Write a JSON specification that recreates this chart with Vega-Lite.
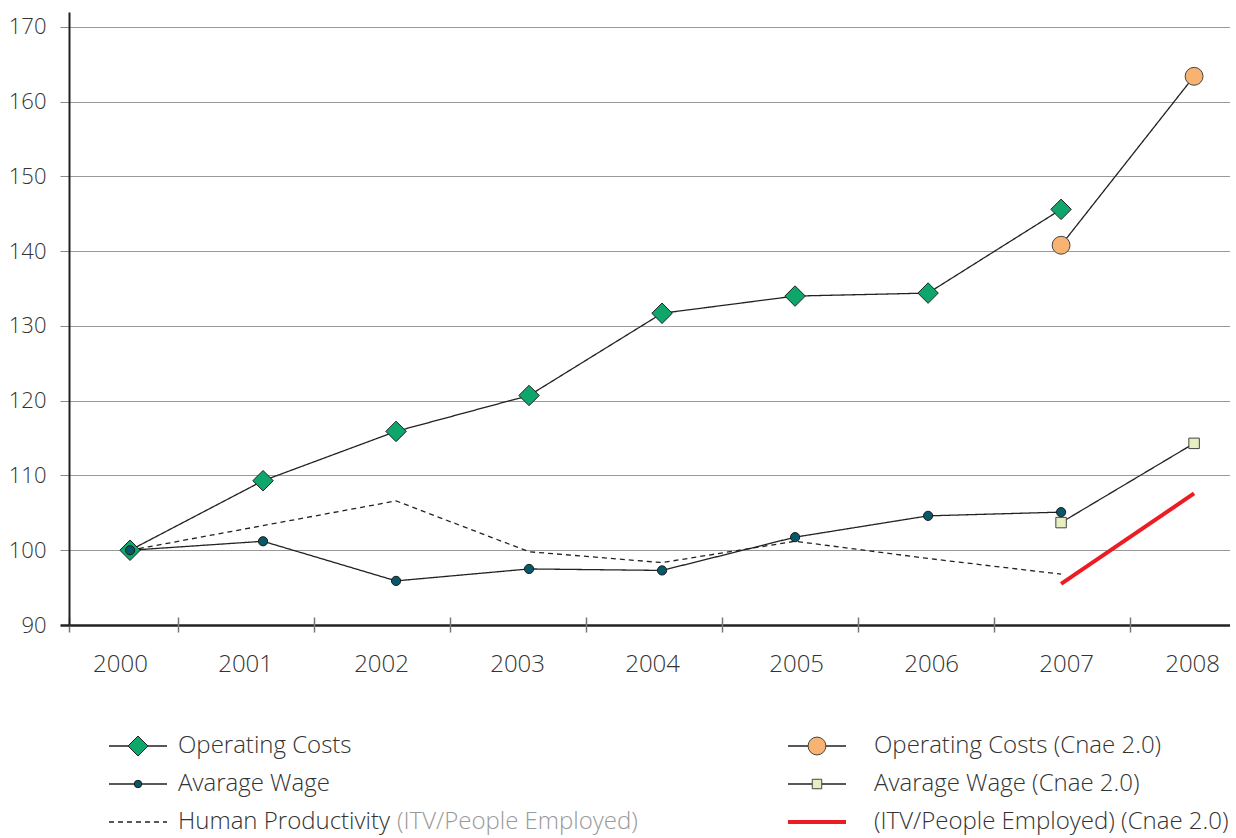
{
  "$schema": "https://vega.github.io/schema/vega-lite/v6.json",
  "padding": {"left": 8, "top": 12, "right": 0, "bottom": 5},
  "background": "white",
  "config": {
    "view": {"stroke": null},
    "font": "Open Sans",
    "concat": {"spacing": 53}
  },
  "datasets": {
    "main": [
      {"series": "Operating Costs", "year": 2000, "value": 100},
      {"series": "Operating Costs", "year": 2001, "value": 109.3},
      {"series": "Operating Costs", "year": 2002, "value": 115.9},
      {"series": "Operating Costs", "year": 2003, "value": 120.7},
      {"series": "Operating Costs", "year": 2004, "value": 131.7},
      {"series": "Operating Costs", "year": 2005, "value": 134.0},
      {"series": "Operating Costs", "year": 2006, "value": 134.4},
      {"series": "Operating Costs", "year": 2007, "value": 145.6},
      {"series": "Avarage Wage", "year": 2000, "value": 100},
      {"series": "Avarage Wage", "year": 2001, "value": 101.2},
      {"series": "Avarage Wage", "year": 2002, "value": 95.9},
      {"series": "Avarage Wage", "year": 2003, "value": 97.5},
      {"series": "Avarage Wage", "year": 2004, "value": 97.3},
      {"series": "Avarage Wage", "year": 2005, "value": 101.75},
      {"series": "Avarage Wage", "year": 2006, "value": 104.6},
      {"series": "Avarage Wage", "year": 2007, "value": 105.1},
      {"series": "Human Productivity", "year": 2000, "value": 100},
      {"series": "Human Productivity", "year": 2001, "value": 103.3},
      {"series": "Human Productivity", "year": 2002, "value": 106.6},
      {"series": "Human Productivity", "year": 2003, "value": 99.8},
      {"series": "Human Productivity", "year": 2004, "value": 98.35},
      {"series": "Human Productivity", "year": 2005, "value": 101.2},
      {"series": "Human Productivity", "year": 2006, "value": 98.9},
      {"series": "Human Productivity", "year": 2007, "value": 96.8},
      {"series": "Operating Costs (Cnae 2.0)", "year": 2007, "value": 140.8},
      {"series": "Operating Costs (Cnae 2.0)", "year": 2008, "value": 163.4},
      {"series": "Avarage Wage (Cnae 2.0)", "year": 2007, "value": 103.7},
      {"series": "Avarage Wage (Cnae 2.0)", "year": 2008, "value": 114.3},
      {"series": "ITV (Cnae 2.0)", "year": 2007, "value": 95.5},
      {"series": "ITV (Cnae 2.0)", "year": 2008, "value": 107.6}
    ],
    "legend": [
      {"series": "Operating Costs", "label": "Operating Costs", "note": "", "col": "a", "row": 1},
      {"series": "Avarage Wage", "label": "Avarage Wage", "note": "", "col": "a", "row": 2},
      {"series": "Human Productivity", "label": "Human Productivity", "note": "(ITV/People Employed)", "col": "a", "row": 3},
      {"series": "Operating Costs (Cnae 2.0)", "label": "Operating Costs (Cnae 2.0)", "note": "", "col": "b", "row": 1},
      {"series": "Avarage Wage (Cnae 2.0)", "label": "Avarage Wage (Cnae 2.0)", "note": "", "col": "b", "row": 2},
      {"series": "ITV (Cnae 2.0)", "label": "(ITV/People Employed) (Cnae 2.0)", "note": "", "col": "b", "row": 3}
    ]
  },
  "vconcat": [
    {
      "width": 1161,
      "height": 613,
      "data": {"name": "main"},
      "encoding": {
        "x": {
          "field": "year", "type": "quantitative",
          "scale": {"domain": [1999.541, 2008.27], "nice": false, "zero": false},
          "axis": {
            "title": null, "grid": false, "domain": false, "offset": -8,
            "values": [1999.541, 1999.924, 2000.361, 2000.865, 2001.383, 2001.887, 2002.406, 2002.91, 2003.428, 2003.925, 2004.451, 2005.008, 2005.474, 2006.023, 2006.496, 2007.038, 2007.519, 2007.985],
            "labelExpr": "abs(datum.value - round(datum.value)) < 0.2 ? '' + round(datum.value) : ''",
            "labelOverlap": false, "labelFlush": false, "labelBound": false,
            "tickSize": 15, "tickWidth": 1.5,
            "tickColor": {"condition": {"test": "abs(datum.value - round(datum.value)) < 0.2", "value": "transparent"}, "value": "#777777"},
            "labelPadding": 20, "labelFontSize": 24, "labelFontWeight": 300, "labelColor": "#333333", "labelFont": "Open Sans"
          }
        },
        "y": {
          "field": "value", "type": "quantitative",
          "scale": {"domain": [90, 172], "nice": false, "zero": false},
          "axis": {
            "title": null,
            "values": [90, 100, 110, 120, 130, 140, 150, 160, 170],
            "domain": true, "domainColor": "#222222", "domainWidth": 2,
            "grid": true,
            "gridColor": {"condition": {"test": "datum.value === 90", "value": "#222222"}, "value": "#999999"},
            "gridWidth": {"condition": {"test": "datum.value === 90", "value": 2.5}, "value": 1},
            "tickSize": 9,
            "tickColor": {"condition": {"test": "datum.value === 90", "value": "#222222"}, "value": "#888888"},
            "tickWidth": {"condition": {"test": "datum.value === 90", "value": 2.5}, "value": 1},
            "labelPadding": 14, "labelFontSize": 22, "labelFontWeight": 300, "labelColor": "#333333", "labelFont": "Open Sans"
          }
        }
      },
      "layer": [
        {
          "transform": [{"filter": "datum.series !== 'ITV (Cnae 2.0)'"}],
          "mark": {"type": "line", "color": "#222222", "strokeWidth": 1.3},
          "encoding": {
            "strokeDash": {
              "field": "series", "type": "nominal",
              "scale": {
                "domain": ["Operating Costs", "Avarage Wage", "Human Productivity", "Operating Costs (Cnae 2.0)", "Avarage Wage (Cnae 2.0)", "ITV (Cnae 2.0)"],
                "range": [[1, 0], [1, 0], [5, 4], [1, 0], [1, 0], [1, 0]]
              },
              "legend": null
            }
          }
        },
        {
          "transform": [{"filter": "datum.series === 'ITV (Cnae 2.0)'"}],
          "mark": {"type": "line", "color": "#ed1c24", "strokeWidth": 4},
          "encoding": {}
        },
        {
          "transform": [{"filter": "datum.series === 'Operating Costs'"}],
          "mark": {"type": "point", "shape": "diamond", "filled": true, "fill": "#0ea66a", "stroke": "#222222", "strokeWidth": 1, "size": 420, "opacity": 1},
          "encoding": {}
        },
        {
          "transform": [{"filter": "datum.series === 'Avarage Wage'"}],
          "mark": {"type": "point", "shape": "circle", "filled": true, "fill": "#07596a", "stroke": "#1a1a1a", "strokeWidth": 1, "size": 85, "opacity": 1},
          "encoding": {}
        },
        {
          "transform": [{"filter": "datum.series === 'Operating Costs (Cnae 2.0)'"}],
          "mark": {"type": "point", "shape": "circle", "filled": true, "fill": "#f8b272", "stroke": "#444444", "strokeWidth": 1, "size": 320, "opacity": 1},
          "encoding": {}
        },
        {
          "transform": [{"filter": "datum.series === 'Avarage Wage (Cnae 2.0)'"}],
          "mark": {"type": "point", "shape": "square", "filled": true, "fill": "#e6eec2", "stroke": "#444444", "strokeWidth": 1, "size": 110, "opacity": 1},
          "encoding": {}
        }
      ]
    },
    {
      "width": 1161,
      "height": 100,
      "data": {"name": "legend"},
      "encoding": {
        "y": {"field": "row", "type": "ordinal", "scale": {"type": "point", "padding": 0, "range": [17, 93]}, "axis": null}
      },
      "resolve": {"scale": {"x": "independent"}},
      "layer": [
        {
          "transform": [{"filter": "datum.series !== 'ITV (Cnae 2.0)'"}],
          "mark": {"type": "rule", "color": "#222222", "strokeWidth": 1.3, "x2Offset": 58},
          "encoding": {
            "x": {"field": "col", "type": "ordinal", "scale": {"type": "point", "padding": 0, "range": [40, 719]}, "axis": null},
            "x2": {"field": "col"},
            "strokeDash": {
              "field": "series", "type": "nominal",
              "scale": {
                "domain": ["Operating Costs", "Avarage Wage", "Human Productivity", "Operating Costs (Cnae 2.0)", "Avarage Wage (Cnae 2.0)", "ITV (Cnae 2.0)"],
                "range": [[1, 0], [1, 0], [5, 4], [1, 0], [1, 0], [1, 0]]
              },
              "legend": null
            }
          }
        },
        {
          "transform": [{"filter": "datum.series === 'ITV (Cnae 2.0)'"}],
          "mark": {"type": "rule", "color": "#ed1c24", "strokeWidth": 4, "x2Offset": 58},
          "encoding": {
            "x": {"field": "col", "type": "ordinal", "scale": {"type": "point", "padding": 0, "domain": ["a", "b"], "range": [40, 719]}, "axis": null},
            "x2": {"field": "col"}
          }
        },
        {
          "transform": [{"filter": "datum.series === 'Operating Costs'"}],
          "mark": {"type": "point", "shape": "diamond", "filled": true, "fill": "#0ea66a", "stroke": "#222222", "strokeWidth": 1, "size": 400, "opacity": 1, "xOffset": 29},
          "encoding": {
            "x": {"field": "col", "type": "ordinal", "scale": {"type": "point", "padding": 0, "domain": ["a", "b"], "range": [40, 719]}, "axis": null}
          }
        },
        {
          "transform": [{"filter": "datum.series === 'Avarage Wage'"}],
          "mark": {"type": "point", "shape": "circle", "filled": true, "fill": "#07596a", "stroke": "#1a1a1a", "strokeWidth": 1, "size": 55, "opacity": 1, "xOffset": 29},
          "encoding": {
            "x": {"field": "col", "type": "ordinal", "scale": {"type": "point", "padding": 0, "domain": ["a", "b"], "range": [40, 719]}, "axis": null}
          }
        },
        {
          "transform": [{"filter": "datum.series === 'Operating Costs (Cnae 2.0)'"}],
          "mark": {"type": "point", "shape": "circle", "filled": true, "fill": "#f8b272", "stroke": "#444444", "strokeWidth": 1, "size": 320, "opacity": 1, "xOffset": 29},
          "encoding": {
            "x": {"field": "col", "type": "ordinal", "scale": {"type": "point", "padding": 0, "domain": ["a", "b"], "range": [40, 719]}, "axis": null}
          }
        },
        {
          "transform": [{"filter": "datum.series === 'Avarage Wage (Cnae 2.0)'"}],
          "mark": {"type": "point", "shape": "square", "filled": true, "fill": "#e6eec2", "stroke": "#444444", "strokeWidth": 1, "size": 90, "opacity": 1, "xOffset": 29},
          "encoding": {
            "x": {"field": "col", "type": "ordinal", "scale": {"type": "point", "padding": 0, "domain": ["a", "b"], "range": [40, 719]}, "axis": null}
          }
        },
        {
          "mark": {"type": "text", "align": "left", "baseline": "middle", "fontSize": 24, "fontWeight": 300, "color": "#333333", "font": "Open Sans"},
          "encoding": {
            "x": {"field": "col", "type": "ordinal", "scale": {"type": "point", "padding": 0, "domain": ["a", "b"], "range": [109, 805]}, "axis": null},
            "text": {"field": "label"}
          }
        },
        {
          "transform": [{"filter": "datum.note !== ''"}],
          "mark": {"type": "text", "align": "left", "baseline": "middle", "fontSize": 24, "fontWeight": 300, "color": "#999999", "font": "Open Sans", "dx": 219},
          "encoding": {
            "x": {"field": "col", "type": "ordinal", "scale": {"type": "point", "padding": 0, "domain": ["a", "b"], "range": [109, 805]}, "axis": null},
            "text": {"field": "note"}
          }
        }
      ]
    }
  ]
}
